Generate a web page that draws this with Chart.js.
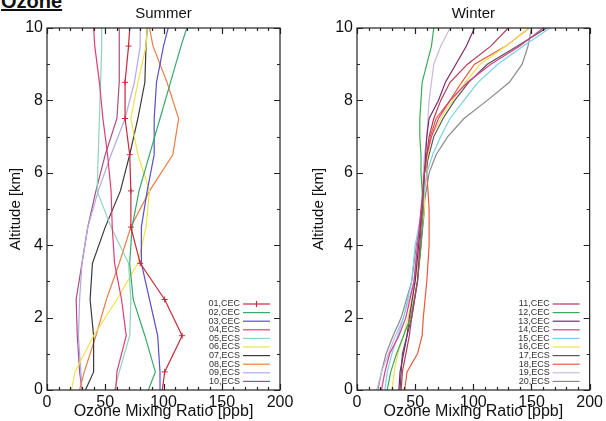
<!DOCTYPE html>
<html>
<head>
<meta charset="utf-8">
<script src="https://cdn.jsdelivr.net/npm/chart.js@4.4.1/dist/chart.umd.min.js"></script>
<style>
  html, body { margin: 0; padding: 0; background: #fff; }
  body { width: 606px; height: 421px; position: relative; overflow: hidden; font-family: "Liberation Sans", Arial, sans-serif; }
  .panel { position: absolute; top: 0; width: 303px; height: 421px; }
  #ozone { position: absolute; left: 1px; top: -9px; font-weight: bold; font-size: 20px; line-height: 20px; text-decoration: underline; color: #111; }
</style>
</head>
<body>
<div id="ozone">Ozone</div>
<div class="panel" style="left:0"><canvas id="summer"></canvas></div>
<div class="panel" style="left:303px"><canvas id="winter"></canvas></div>
<script>
// ---------- DATA ----------
const summerAltitudes = [0, 0.5, 1.5, 2.5, 3.5, 4.5, 5.5, 6.5, 7.5, 8.5, 9.5, 10];
const summerLabels = ["01,CEC","02,CEC","03,CEC","04,ECS","05,ECS","06,ECS","07,ECS","08,ECS","09,ECS","10,ECS"];
const s01 = [99, 101, 116, 101, 80, 72, 72, 71, 67, 67, 70, 71];
const s02 = [87, 93, 84, 74, 71, 73, 79, 88, 97, 106, 115, 120];
const s03 = [97, 97, 95, 88, 81, 81, 86, 92, 92, 94, 100, 104];
const s04 = [59, 60, 68, 64, 58, 56, 55, 52, 48, 45, 41, 40];
const s05 = [58, 62, 71, 72, 70, 55, 43, 44, 45, 46, 47, 47];
const s06 = [21, 24, 40, 60, 78, 85, 88, 78, 72, 78, 85, 86];
const s07 = [33, 40, 40, 37, 39, 50, 63, 71, 78, 84, 85, 86];
const s08 = [28, 32, 42, 51, 62, 72, 88, 108, 113, 103, 91, 88];
const s09 = [30, 29, 27, 28, 30, 35, 44, 55, 67, 75, 80, 80];
const s10 = [30, 28, 26, 25, 30, 35, 42, 50, 60, 62, 62, 62];
const summerSeries = [s01, s02, s03, s04, s05, s06, s07, s08, s09, s10];

const winterAltitudes = [0, 0.5, 1, 1.5, 2, 3, 4, 5, 6, 6.5, 7, 7.5, 8, 8.5, 9, 9.5, 10];
const winterLabels = ["11,CEC","12,CEC","13,CEC","14,CEC","15,CEC","16,CEC","17,ECS","18,ECS","19,ECS","20,ECS"];
const w11 = [38, 39, 42, 45, 47, 52, 54, 56, 58, 60, 62, 66, 72, 80, 95, 115, 130];
const w12 = [26, 29, 34, 40, 46, 52, 55, 57, 55, 55, 54, 54, 55, 56, 60, 64, 66];
const w13 = [36, 37, 40, 43, 45, 50, 53, 56, 58, 59, 60, 62, 70, 76, 85, 94, 101];
const w14 = [21, 24, 28, 36, 42, 49, 52, 55, 58, 60, 64, 70, 80, 95, 115, 140, 160];
const w15 = [24, 26, 30, 35, 40, 47, 50, 56, 60, 65, 72, 80, 92, 104, 121, 143, 166];
const w16 = [30, 32, 35, 40, 44, 50, 54, 58, 58, 61, 64, 72, 82, 93, 106, 128, 148];
const w17 = [37, 38, 39, 43, 47, 52, 55, 58, 58, 62, 66, 74, 84, 96, 112, 138, 163];
const w18 = [41, 43, 52, 56, 57, 60, 62, 62, 60, 61, 63, 68, 80, 90, 101, 128, 148];
const w19 = [17, 21, 27, 33, 40, 49, 52, 56, 57, 58, 60, 61, 62, 64, 66, 72, 80];
const w20 = [18, 21, 25, 31, 38, 47, 51, 57, 62, 68, 78, 92, 112, 131, 142, 147, 150];
const winterSeries = [w11, w12, w13, w14, w15, w16, w17, w18, w19, w20];

const xTicks = [0, 50, 100, 150, 200];
const yTicks = [0, 2, 4, 6, 8, 10];

// ---------- STYLE ----------
const summerColors = ['#c8283c','#3aa86a','#5a50c8','#e03c78','#8fd3b8','#eee24a','#3a3a3a','#e8804a','#b4a8e8','#a8507a'];
const winterColors = ['#b43a5a','#3aaa5a','#7a2a6a','#d83c8c','#7ad0e8','#f0e050','#555555','#e85a3a','#c8b8e0','#8a8a8a'];
const FONT = '"Liberation Sans", Arial, sans-serif';

function buildDatasets(alts, series, labels, colors, markerFirst) {
  return series.map((vals, i) => ({
    label: labels[i],
    data: alts.map((a, k) => ({ x: vals[k], y: a })),
    showLine: true,
    borderColor: colors[i],
    backgroundColor: colors[i],
    borderWidth: 1.2,
    pointStyle: 'cross',
    pointRadius: (markerFirst && i === 0) ? (ctx => (ctx.dataIndex === 0 || ctx.dataIndex === alts.length - 1) ? 0 : 3) : 0,
    pointBorderWidth: 1,
    pointBorderColor: colors[i],
    tension: 0
  }));
}

const frameAndLegend = {
  id: 'frameAndLegend',
  afterDraw(chart, args, opts) {
    const { ctx, chartArea: a, scales: { x, y } } = chart;
    ctx.save();
    // panel title centred over the plot area
    ctx.fillStyle = '#111';
    ctx.font = '15px ' + FONT;
    ctx.textAlign = 'center';
    ctx.textBaseline = 'middle';
    ctx.fillText(opts.title, (a.left + a.right) / 2, 14);
    // frame with inward ticks
    ctx.strokeStyle = '#222';
    ctx.lineWidth = 1.2;
    ctx.strokeRect(a.left, a.top, a.right - a.left, a.bottom - a.top);
    ctx.beginPath();
    for (let v = 0; v <= 200; v += 10) {
      const px = Math.round(x.getPixelForValue(v)) + 0.5;
      const len = v % 50 === 0 ? 6 : 3;
      ctx.moveTo(px, a.bottom); ctx.lineTo(px, a.bottom - len);
      ctx.moveTo(px, a.top); ctx.lineTo(px, a.top + len);
    }
    for (let v = 0; v <= 10; v += 1) {
      const py = Math.round(y.getPixelForValue(v)) + 0.5;
      const len = v % 2 === 0 ? 6 : 3;
      ctx.moveTo(a.left, py); ctx.lineTo(a.left + len, py);
      ctx.moveTo(a.right, py); ctx.lineTo(a.right - len, py);
    }
    ctx.stroke();
    // legend
    ctx.font = '9px ' + FONT;
    ctx.textAlign = 'right';
    ctx.textBaseline = 'middle';
    chart.data.datasets.forEach((ds, i) => {
      const ry = a.bottom - 86 + i * 8.6;
      ctx.fillStyle = '#333';
      ctx.fillText(ds.label, a.right - 40, ry);
      ctx.strokeStyle = ds.borderColor;
      ctx.lineWidth = 1.2;
      ctx.beginPath();
      ctx.moveTo(a.right - 37, ry); ctx.lineTo(a.right - 10, ry);
      ctx.stroke();
      if (opts.marker && i === 0) {
        const mx = a.right - 23.5;
        ctx.beginPath();
        ctx.moveTo(mx, ry - 3); ctx.lineTo(mx, ry + 3);
        ctx.stroke();
      }
    });
    ctx.restore();
  }
};

function makeChart(id, title, datasets, yWidth, padRight, marker) {
  return new Chart(document.getElementById(id), {
    type: 'scatter',
    data: { datasets },
    plugins: [frameAndLegend],
    options: {
      responsive: true,
      maintainAspectRatio: false,
      animation: false,
      layout: { padding: { left: 0, right: padRight, top: 28, bottom: 0 } },
      plugins: {
        legend: { display: false },
        tooltip: { enabled: false },
        title: { display: false },
        frameAndLegend: { marker, title }
      },
      scales: {
        x: {
          type: 'linear', min: 0, max: 200,
          afterBuildTicks: s => { s.ticks = xTicks.map(v => ({ value: v })); },
          afterFit: s => { s.height = 31; },
          grid: { display: false, drawTicks: false },
          border: { display: false },
          ticks: { color: '#111', font: { family: FONT, size: 16 }, padding: 3, maxRotation: 0 },
          title: { display: true, text: 'Ozone Mixing Ratio [ppb]', color: '#111', font: { family: FONT, size: 16 }, padding: { top: 0, bottom: 0 } }
        },
        y: {
          type: 'linear', min: 0, max: 10,
          afterBuildTicks: s => { s.ticks = yTicks.map(v => ({ value: v })); },
          afterFit: s => { s.width = yWidth; },
          grid: { display: false, drawTicks: false },
          border: { display: false },
          ticks: { color: '#111', font: { family: FONT, size: 16 }, padding: 4 },
          title: { display: true, text: 'Altitude [km]', color: '#111', font: { family: FONT, size: 15 }, padding: { top: 7, bottom: 0 } }
        }
      }
    }
  });
}

makeChart('summer', 'Summer', buildDatasets(summerAltitudes, summerSeries, summerLabels, summerColors, true), 47, 23, true);
makeChart('winter', 'Winter', buildDatasets(winterAltitudes, winterSeries, winterLabels, winterColors, false), 54, 16, false);
</script>
</body>
</html>
